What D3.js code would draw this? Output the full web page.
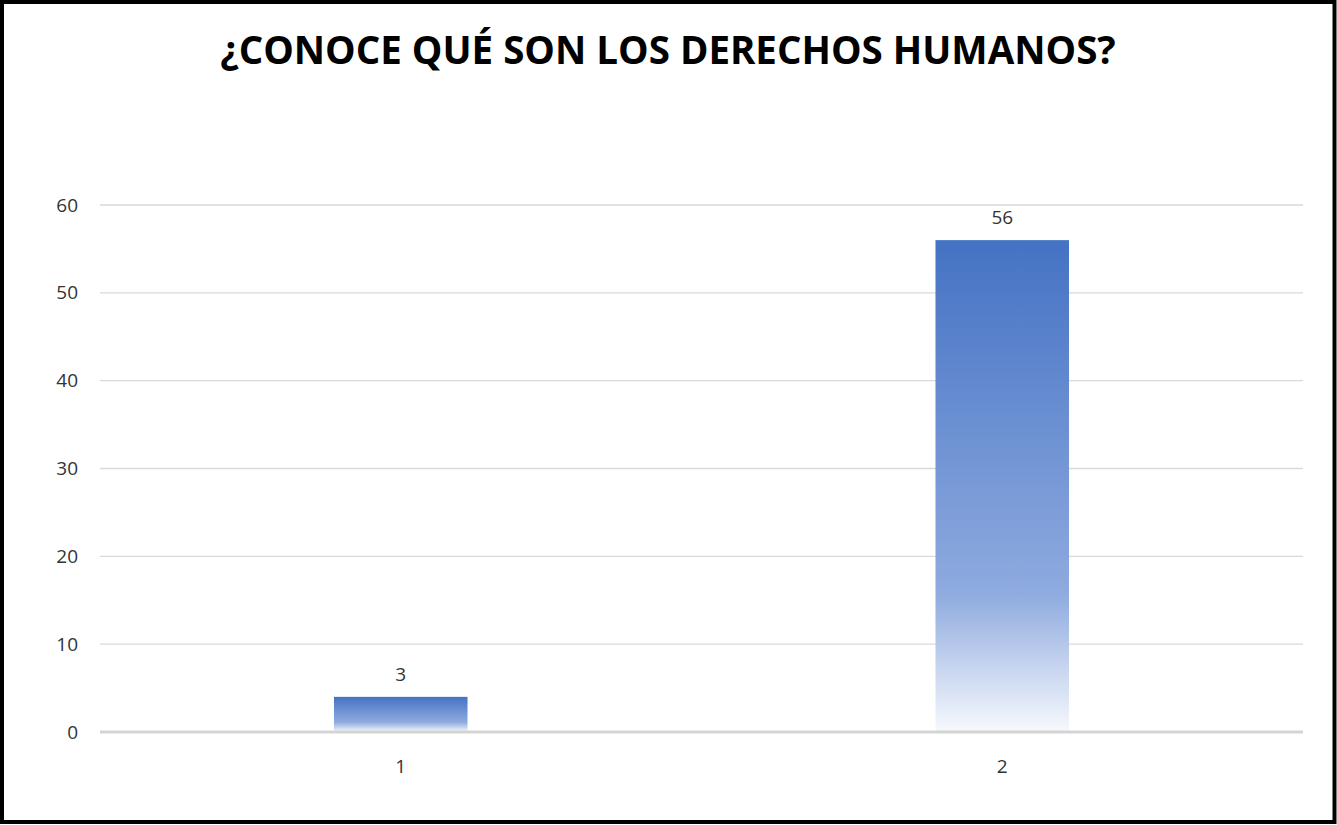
<!DOCTYPE html>
<html><head><meta charset="utf-8">
<script src="https://cdn.jsdelivr.net/npm/d3@7"></script>
<style>body{margin:0;background:#fff}svg{display:block}</style>
</head><body>
<script>
const title = "¿CONOCE QUÉ SON LOS DERECHOS HUMANOS?";
const categories = ["1", "2"];
const barValues = [4, 56];
const labelTexts = ["3", "56"];
const yTicks = [0, 10, 20, 30, 40, 50, 60];

const W = 1337, H = 825;
const svg = d3.select("body").append("svg").attr("width", W).attr("height", H);

svg.append("rect").attr("x", 2).attr("y", 2).attr("width", W - 4.5).attr("height", H - 5)
  .attr("fill", "#fff").attr("stroke", "#000").attr("stroke-width", 4);

const defs = svg.append("defs");
const g = defs.append("linearGradient").attr("id", "grad").attr("x1", 0).attr("y1", 0).attr("x2", 0).attr("y2", 1);
g.append("stop").attr("offset", "0%").attr("stop-color", "#4472C4");
g.append("stop").attr("offset", "72%").attr("stop-color", "#8fabdf");
g.append("stop").attr("offset", "100%").attr("stop-color", "#f7f9fd");

svg.append("text").attr("x", 668).attr("y", 64).attr("text-anchor", "middle")
  .attr("font-family", "'Open Sans', sans-serif").attr("font-weight", 700)
  .attr("font-size", 38.5).attr("fill", "#000").text(title);

const x = d3.scaleBand().domain(categories).range([100, 1303]).padding(0);
const y = d3.scaleLinear().domain([0, 60]).range([732, 205]);

const grid = svg.append("g");
grid.selectAll("line").data(yTicks.filter(d => d !== 0)).join("line")
  .attr("x1", 100).attr("x2", 1303).attr("y1", d => y(d)).attr("y2", d => y(d))
  .attr("stroke", "#d9d9d9").attr("stroke-width", 1.3);

const yAxis = d3.axisLeft(y).tickValues(yTicks).tickSize(0).tickPadding(22);
const ya = svg.append("g").attr("transform", "translate(100,0)").call(yAxis);
ya.select(".domain").remove();
ya.selectAll("text").attr("font-family", "'Open Sans', sans-serif").attr("font-size", 19).attr("fill", "#333");

const bw = x.bandwidth() * 0.222;
svg.selectAll("rect.bar").data(barValues).join("rect").attr("class", "bar")
  .attr("x", (d, i) => x(categories[i]) + x.bandwidth() / 2 - bw / 2)
  .attr("width", bw)
  .attr("y", d => y(d)).attr("height", d => y(0) - y(d))
  .attr("fill", "url(#grad)");

svg.append("line").attr("x1", 100).attr("x2", 1303).attr("y1", y(0)).attr("y2", y(0))
  .attr("stroke", "#d4d4d4").attr("stroke-width", 3);

const xAxis = d3.axisBottom(x).tickSize(0).tickPadding(28);
const xa = svg.append("g").attr("transform", `translate(0,${y(0)})`).call(xAxis);
xa.select(".domain").remove();
xa.selectAll("text").attr("font-family", "'Open Sans', sans-serif").attr("font-size", 19).attr("fill", "#333");

svg.selectAll("text.lbl").data(barValues).join("text").attr("class", "lbl")
  .attr("x", (d, i) => x(categories[i]) + x.bandwidth() / 2)
  .attr("y", d => y(d) - 16).attr("text-anchor", "middle")
  .attr("font-family", "'Open Sans', sans-serif").attr("font-size", 19).attr("fill", "#333")
  .text((d, i) => labelTexts[i]);
</script>
</body></html>
